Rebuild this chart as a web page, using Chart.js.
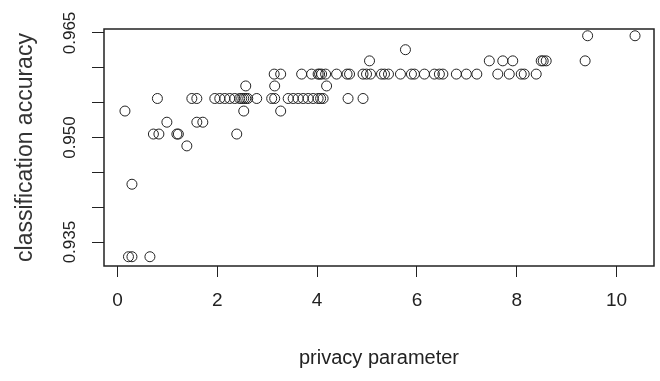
<!DOCTYPE html>
<html>
<head>
<meta charset="utf-8">
<script src="https://cdn.jsdelivr.net/npm/chart.js@4"></script>
<style>
  html, body { margin: 0; padding: 0; background: #fff; }
  #wrap { width: 660px; height: 381px; }
</style>
</head>
<body>
<div id="wrap"><canvas id="chart"></canvas></div>
<script>
// privacy parameter (x) and classification accuracy (y)
const privacyParam = [
  0.22, 0.29, 0.65,
  0.29,
  1.39,
  0.72, 0.83, 1.19, 1.22, 2.39,
  0.99, 1.59, 1.71,
  0.15, 2.53, 3.27,
  0.80, 1.49, 1.59, 1.95, 2.05, 2.15, 2.25, 2.35, 2.45, 2.49, 2.53, 2.57, 2.61, 2.79,
  3.09, 3.15, 3.42, 3.52, 3.62, 3.72, 3.82, 3.92, 4.02, 4.07, 4.12, 4.62, 4.92,
  2.57, 3.15, 4.19,
  3.14, 3.27, 3.69, 3.89, 4.02, 4.05, 4.09, 4.17, 4.39, 4.60, 4.65, 4.92, 4.99, 5.07,
  5.29, 5.35, 5.43, 5.67, 5.89, 5.95, 6.15, 6.35, 6.45, 6.52, 6.79, 6.99, 7.20,
  7.62, 7.85, 8.09, 8.15, 8.39,
  5.05, 7.45, 7.72, 7.92, 8.49, 8.53, 8.59, 9.37,
  5.77,
  9.42, 10.37
];
const accuracy = [
  0.9329, 0.9329, 0.9329,
  0.9433,
  0.9488,
  0.9505, 0.9505, 0.9505, 0.9505, 0.9505,
  0.9522, 0.9522, 0.9522,
  0.9538, 0.9538, 0.9538,
  0.9556, 0.9556, 0.9556, 0.9556, 0.9556, 0.9556, 0.9556, 0.9556, 0.9556, 0.9556, 0.9556, 0.9556, 0.9556, 0.9556,
  0.9556, 0.9556, 0.9556, 0.9556, 0.9556, 0.9556, 0.9556, 0.9556, 0.9556, 0.9556, 0.9556, 0.9556, 0.9556,
  0.9574, 0.9574, 0.9574,
  0.9591, 0.9591, 0.9591, 0.9591, 0.9591, 0.9591, 0.9591, 0.9591, 0.9591, 0.9591, 0.9591, 0.9591, 0.9591, 0.9591,
  0.9591, 0.9591, 0.9591, 0.9591, 0.9591, 0.9591, 0.9591, 0.9591, 0.9591, 0.9591, 0.9591, 0.9591, 0.9591,
  0.9591, 0.9591, 0.9591, 0.9591, 0.9591,
  0.9610, 0.9610, 0.9610, 0.9610, 0.9610, 0.9610, 0.9610, 0.9610,
  0.9626,
  0.9646, 0.9646
];

const xTicks = [0, 2, 4, 6, 8, 10];
const yTicks = [0.935, 0.940, 0.945, 0.950, 0.955, 0.960, 0.965];
const yLabelled = ['0.935', '0.950', '0.965'];

const points = privacyParam.map((x, i) => ({ x, y: accuracy[i] }));

const boxPlugin = {
  id: 'box',
  afterDraw(chart) {
    const { ctx, chartArea: a } = chart;
    ctx.save();
    ctx.strokeStyle = '#222';
    ctx.lineWidth = 1.5;
    ctx.strokeRect(a.left, a.top, a.right - a.left, a.bottom - a.top);
    ctx.restore();
  }
};

const sans = '"Liberation Sans", Arial, sans-serif';

new Chart(document.getElementById('chart'), {
  type: 'scatter',
  data: {
    datasets: [{
      data: points,
      pointStyle: 'circle',
      pointRadius: 5,
      borderColor: '#222',
      borderWidth: 1,
      backgroundColor: 'rgba(0,0,0,0)'
    }]
  },
  options: {
    responsive: true,
    maintainAspectRatio: false,
    animation: false,
    layout: { padding: { top: 29, right: 5, left: 0, bottom: 0 } },
    plugins: { legend: { display: false }, tooltip: { enabled: false } },
    scales: {
      x: {
        type: 'linear',
        min: -0.27,
        max: 10.75,
        afterBuildTicks: s => { s.ticks = xTicks.map(v => ({ value: v })); },
        afterFit: s => { s.height = 115; },
        grid: { drawOnChartArea: false, drawTicks: true, tickLength: 11, tickColor: '#222' },
        border: { display: false },
        ticks: { color: '#222', font: { family: sans, size: 19 }, padding: 12, maxRotation: 0, autoSkip: false },
        title: {
          display: true,
          text: 'privacy parameter',
          color: '#222',
          font: { family: sans, size: 20 },
          padding: { top: 0, bottom: 11 }
        }
      },
      y: {
        type: 'linear',
        min: 0.93157,
        max: 0.96557,
        afterBuildTicks: s => { s.ticks = yTicks.map(v => ({ value: v })); },
        afterFit: s => { s.width = 104; },
        grid: { drawOnChartArea: false, drawTicks: true, tickLength: 12, tickColor: '#222' },
        border: { display: false },
        ticks: {
          color: '#222',
          font: { family: sans, size: 17 },
          minRotation: 90,
          maxRotation: 90,
          crossAlign: 'center',
          padding: 0,
          autoSkip: false,
          callback: v => {
            const t = v.toFixed(3);
            return yLabelled.includes(t) ? t : '';
          }
        },
        title: {
          display: true,
          text: 'classification accuracy',
          color: '#333',
          font: { family: sans, size: 23 },
          padding: { top: 12, bottom: 0 }
        }
      }
    }
  },
  plugins: [boxPlugin]
});
</script>
</body>
</html>
